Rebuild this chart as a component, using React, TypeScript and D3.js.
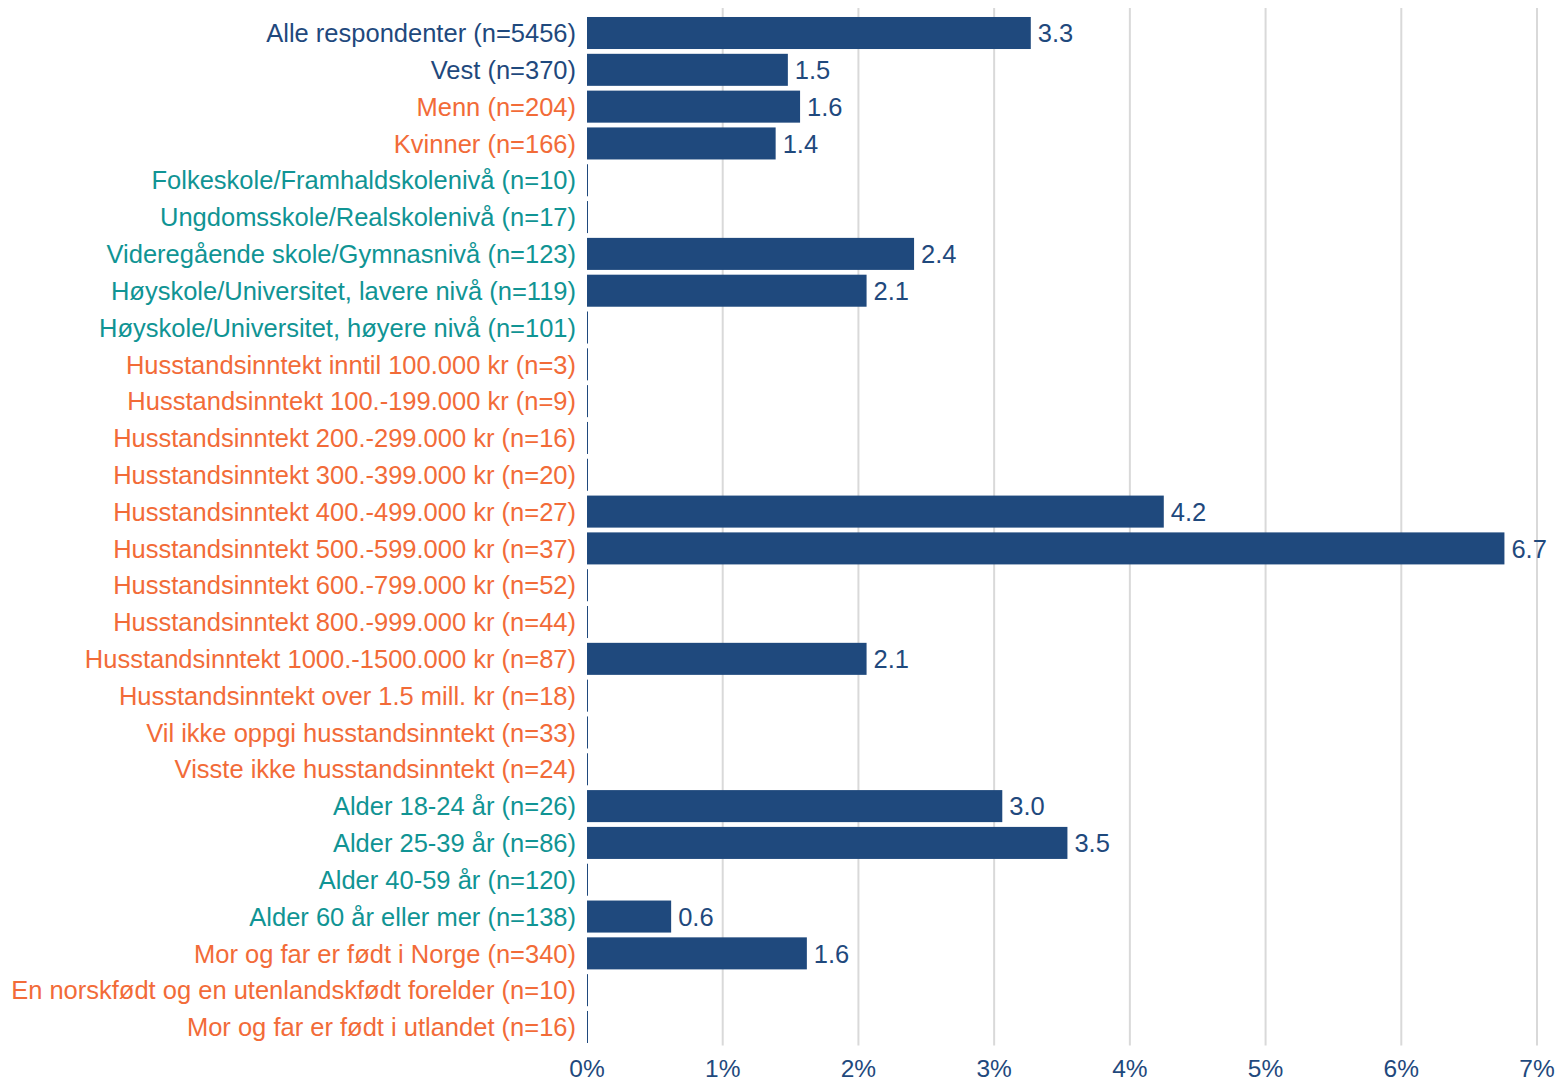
import React from "react";
import * as d3 from "d3";

const categories = [
  "Alle respondenter (n=5456)",
  "Vest (n=370)",
  "Menn (n=204)",
  "Kvinner (n=166)",
  "Folkeskole/Framhaldskolenivå (n=10)",
  "Ungdomsskole/Realskolenivå (n=17)",
  "Videregående skole/Gymnasnivå (n=123)",
  "Høyskole/Universitet, lavere nivå (n=119)",
  "Høyskole/Universitet, høyere nivå (n=101)",
  "Husstandsinntekt inntil 100.000 kr (n=3)",
  "Husstandsinntekt 100.-199.000 kr (n=9)",
  "Husstandsinntekt 200.-299.000 kr (n=16)",
  "Husstandsinntekt 300.-399.000 kr (n=20)",
  "Husstandsinntekt 400.-499.000 kr (n=27)",
  "Husstandsinntekt 500.-599.000 kr (n=37)",
  "Husstandsinntekt 600.-799.000 kr (n=52)",
  "Husstandsinntekt 800.-999.000 kr (n=44)",
  "Husstandsinntekt 1000.-1500.000 kr (n=87)",
  "Husstandsinntekt over 1.5 mill. kr (n=18)",
  "Vil ikke oppgi husstandsinntekt (n=33)",
  "Visste ikke husstandsinntekt (n=24)",
  "Alder 18-24 år (n=26)",
  "Alder 25-39 år (n=86)",
  "Alder 40-59 år (n=120)",
  "Alder 60 år eller mer (n=138)",
  "Mor og far er født i Norge (n=340)",
  "En norskfødt og en utenlandskfødt forelder (n=10)",
  "Mor og far er født i utlandet (n=16)",
];

const values = [
  3.27, 1.48, 1.57, 1.39, 0, 0, 2.41, 2.06, 0, 0, 0, 0, 0, 4.25, 6.76, 0, 0, 2.06, 0, 0, 0, 3.06, 3.54, 0, 0.62, 1.62, 0, 0,
];

const valueLabels = [
  "3.3", "1.5", "1.6", "1.4", "", "", "2.4", "2.1", "", "", "", "", "", "4.2", "6.7", "", "", "2.1", "", "", "", "3.0", "3.5", "", "0.6", "1.6", "", "",
];

// label group: b = blue, o = orange, t = teal
const labelGroups = [
  "b", "b", "o", "o", "t", "t", "t", "t", "t", "o", "o", "o", "o", "o", "o", "o", "o", "o", "o", "o", "o", "t", "t", "t", "t", "o", "o", "o",
];

const xTicks = [0, 1, 2, 3, 4, 5, 6, 7];

const BLUE = "#1F497D";
const ORANGE = "#F26B38";
const TEAL = "#109494";
const groupColor: Record<string, string> = { b: BLUE, o: ORANGE, t: TEAL };

export default function App() {
  const W = 1559;
  const H = 1082;
  const left = 587;
  const right = 1537;
  const top = 14.6;
  const bottom = 1045.4;
  const fs = 25.5;

  const x = d3.scaleLinear().domain([0, 7]).range([left, right]);
  const y = d3
    .scaleBand<number>()
    .domain(categories.map((_, i) => i))
    .range([top, bottom])
    .paddingInner(0.13)
    .paddingOuter(0.065);

  const font = "Arial, 'Liberation Sans', sans-serif";

  return (
    <svg
      width={W}
      height={H}
      style={{ position: "absolute", left: 0, top: 0 }}
      fontFamily={font}
    >
      <rect width={W} height={H} fill="#fff" />
      {xTicks.slice(1).map((t) => (
        <line
          key={t}
          x1={x(t)}
          x2={x(t)}
          y1={8}
          y2={bottom}
          stroke="#D9D9D9"
          strokeWidth={2}
        />
      ))}
      {categories.map((c, i) => {
        const by = y(i)!;
        const bh = y.bandwidth();
        const cy = by + bh / 2;
        const w = x(values[i]) - x(0);
        return (
          <g key={c}>
            {values[i] > 0 ? (
              <rect x={x(0)} y={by} width={w} height={bh} fill={BLUE} />
            ) : (
              <line x1={x(0) + 0.5} x2={x(0) + 0.5} y1={by} y2={by + bh} stroke={BLUE} strokeWidth={1} />
            )}
            <text
              x={left - 11}
              y={cy + fs * 0.36}
              textAnchor="end"
              fontSize={fs}
              fill={groupColor[labelGroups[i]]}
            >
              {c}
            </text>
            {valueLabels[i] && (
              <text
                x={x(values[i]) + 7}
                y={cy + fs * 0.36}
                fontSize={fs}
                fill={BLUE}
              >
                {valueLabels[i]}
              </text>
            )}
          </g>
        );
      })}
      {xTicks.map((t) => (
        <text
          key={t}
          x={x(t)}
          y={1077}
          textAnchor="middle"
          fontSize={24.5}
          fill={BLUE}
        >
          {t}%
        </text>
      ))}
    </svg>
  );
}
